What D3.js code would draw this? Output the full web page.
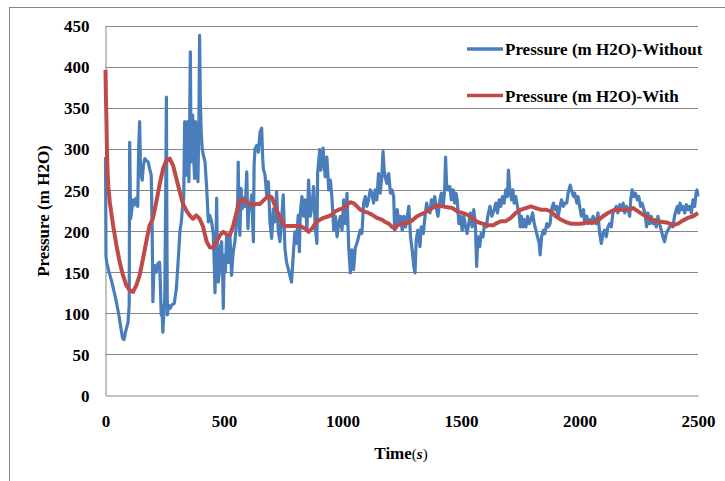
<!DOCTYPE html>
<html>
<head>
<meta charset="utf-8">
<script src="https://cdn.jsdelivr.net/npm/d3@7"></script>
<style>
  body { margin: 0; background: #fff; }
  svg text { font-family: "Liberation Serif", "DejaVu Serif", serif; font-weight: bold; fill: #000; }
</style>
</head>
<body>
<svg id="chart" width="725" height="481"></svg>
<script>
// axis ticks
const xTicks = [0, 500, 1000, 1500, 2000, 2500];
const yTicks = [0, 50, 100, 150, 200, 250, 300, 350, 400, 450];

// series names
const seriesNames = ["Pressure (m H2O)-Without", "Pressure (m H2O)-With"];

// "Without" series: time (s) and pressure (m H2O)
const timeWithout = [0,1,2,5,15,25,35,45,55,65,72,78,85,95,100,102,106,112,118,124,130,136,140,144,148,155,160,166,172,180,186,193,197,200,204,207,214,220,228,231,235,238,242,246,250,254,257,259,261,266,272,280,290,299,308,314,320,324,330,334,338,342,346,350,352,355,358,361,364,368,372,376,380,385,390,394,397,400,404,408,413,420,427,434,440,448,455,460,462,466,469,472,476,480,483,490,494,497,501,506,511,518,525,532,536,539,546,553,558,560,563,567,572,577,583,590,596,601,605,610,617,621,624,627,631,638,645,652,659,663,666,673,680,687,694,701,708,715,722,729,736,743,750,757,764,771,778,785,792,799,806,813,818,822,829,836,843,850,857,864,871,878,885,892,895,904,909,918,927,934,942,949,956,963,970,977,984,991,998,1005,1012,1019,1026,1033,1040,1047,1054,1061,1068,1075,1082,1089,1096,1103,1110,1117,1124,1131,1138,1145,1152,1159,1166,1171,1176,1180,1187,1195,1202,1209,1216,1220,1231,1238,1245,1252,1259,1266,1273,1280,1287,1294,1301,1306,1311,1318,1327,1332,1341,1347,1355,1360,1369,1375,1383,1389,1397,1403,1411,1417,1425,1431,1435,1439,1445,1453,1459,1467,1473,1479,1484,1491,1498,1505,1512,1519,1526,1533,1540,1547,1554,1561,1566,1571,1579,1585,1593,1599,1607,1613,1622,1630,1640,1647,1654,1661,1668,1675,1682,1689,1696,1700,1706,1713,1719,1724,1731,1738,1745,1750,1755,1761,1767,1774,1781,1788,1795,1802,1809,1816,1823,1830,1834,1840,1848,1854,1862,1868,1876,1882,1890,1896,1904,1910,1918,1924,1932,1938,1946,1952,1961,1966,1975,1980,1989,1994,2003,2008,2017,2022,2031,2036,2043,2050,2057,2064,2071,2078,2085,2092,2099,2106,2113,2120,2127,2134,2141,2148,2155,2162,2170,2177,2184,2191,2198,2205,2212,2216,2222,2229,2236,2244,2250,2258,2264,2272,2278,2283,2289,2296,2303,2310,2317,2324,2331,2338,2345,2352,2359,2366,2373,2380,2387,2394,2401,2408,2413,2419,2424,2430,2437,2444,2451,2458,2465,2472,2479,2486,2492,2496,2500];
const pressureWithout = [290,240,170,162,150,140,128,115,100,82,70,68,78,89,110,308,215,228,238,232,240,230,300,333,272,262,280,288,286,284,276,268,200,114,150,158,150,160,162,140,98,110,77,100,118,240,363,200,98,110,106,110,112,130,170,200,211,227,240,333,290,268,333,300,260,330,418,284,300,341,290,264,333,300,260,330,438,360,320,300,292,284,252,211,219,211,195,150,125,180,240,170,138,150,179,187,150,106,170,150,195,162,195,146,165,175,187,211,240,284,220,195,252,227,240,230,272,203,230,227,244,210,187,280,300,304,296,320,325,290,276,268,244,260,211,191,227,211,248,200,187,215,244,179,162,154,146,138,170,199,185,219,175,222,242,218,238,201,262,218,230,254,205,185,270,299,274,301,266,290,250,262,238,201,218,193,209,218,201,238,209,246,181,149,177,153,180,185,193,201,197,234,242,230,238,250,246,234,250,238,270,246,266,297,274,266,258,270,246,250,242,201,226,209,218,201,218,205,218,230,193,177,157,149,189,201,181,205,197,215,234,226,222,238,230,242,226,218,238,246,230,250,290,258,250,254,238,250,234,246,238,209,218,201,218,205,197,210,222,205,226,205,157,193,181,197,193,209,205,218,230,218,226,234,222,238,230,242,234,250,242,274,250,238,250,234,242,230,222,205,218,205,214,205,218,209,214,222,209,201,193,185,171,193,201,197,209,205,209,226,234,226,230,218,230,238,230,234,234,246,256,250,242,246,234,242,226,218,226,209,218,209,214,209,218,214,209,222,197,185,197,201,193,205,209,205,222,226,230,222,232,226,234,222,230,226,218,238,250,242,246,238,242,230,234,226,218,205,222,209,218,209,214,205,218,209,201,193,187,197,201,205,209,205,218,226,230,222,234,226,230,222,232,226,230,222,238,230,246,250,242];

// "With" series
const timeWith = [0,2,4,6,9,12,18,32,46,60,74,88,102,116,130,144,158,172,186,200,214,228,243,257,271,285,299,313,327,341,355,369,383,397,411,427,441,455,469,483,497,511,525,539,553,567,581,596,610,624,638,652,666,687,701,715,729,743,757,778,799,820,843,857,871,885,899,920,942,956,970,984,1005,1019,1033,1047,1061,1075,1089,1110,1124,1145,1166,1180,1195,1209,1223,1231,1252,1273,1294,1315,1337,1358,1379,1400,1421,1442,1463,1484,1505,1526,1547,1569,1590,1611,1636,1647,1668,1689,1710,1731,1753,1774,1795,1816,1837,1858,1879,1900,1921,1942,1963,1985,2006,2027,2048,2057,2078,2099,2120,2141,2163,2184,2205,2226,2247,2268,2289,2310,2331,2352,2373,2394,2416,2437,2458,2479,2500];
const pressureWith = [396,360,335,300,270,254,235,207,183,162,146,134,128,126,134,146,166,187,207,215,235,256,276,286,288,280,264,248,233,225,219,215,219,215,206,187,180,180,187,195,199,196,195,207,223,237,239,235,232,232,233,233,237,243,241,231,221,211,206,206,206,206,203,199,203,209,213,216,218,220,224,226,228,232,235,234,230,226,224,222,220,216,214,211,209,205,203,207,209,210,213,218,221,224,228,231,230,229,228,224,222,220,216,211,209,207,207,209,212,212,216,222,226,228,230,228,226,226,224,218,214,211,209,209,209,210,211,210,213,218,222,225,226,226,226,228,224,220,216,213,212,211,210,207,209,213,216,218,222];

const colors = ["#4A7EBB", "#BE4B48"];

const svg = d3.select("#chart");
svg.append("rect").attr("width", 725).attr("height", 481).attr("fill", "#fff");

// outer chart frame (only the left and top edges are in view)
svg.append("rect")
  .attr("x", 9.5).attr("y", 7.5)
  .attr("width", 900).attr("height", 700)
  .attr("fill", "none")
  .attr("stroke", "#868686")
  .attr("stroke-width", 1);

const plot = {left: 105.5, right: 698, top: 25.5, bottom: 395.5};

const x = d3.scaleLinear().domain([0, 2500]).range([plot.left, plot.right]);
const y = d3.scaleLinear().domain([0, 450]).range([plot.bottom, plot.top]);

// horizontal grid lines
svg.append("g")
  .selectAll("line")
  .data(yTicks.slice(1))
  .join("line")
  .attr("x1", plot.left).attr("x2", plot.right)
  .attr("y1", d => Math.round(y(d)) + 0.5)
  .attr("y2", d => Math.round(y(d)) + 0.5)
  .attr("stroke", "#868686")
  .attr("stroke-width", 1);

// y axis
const yAxis = svg.append("g")
  .attr("transform", "translate(" + plot.left + ",0)")
  .call(d3.axisLeft(y).tickValues(yTicks).tickFormat(d3.format("d")).tickSize(0).tickPadding(16));
yAxis.select(".domain").attr("stroke", "#868686");
yAxis.selectAll("text")
  .style("font-family", "'Liberation Serif', serif")
  .style("font-size", "17px")
  .attr("dy", "0.36em");

// x axis
const xAxis = svg.append("g")
  .attr("transform", "translate(0," + plot.bottom + ")")
  .call(d3.axisBottom(x).tickValues(xTicks).tickFormat(d3.format("d")).tickSize(0).tickPadding(19));
xAxis.select(".domain").attr("stroke", "#868686");
xAxis.selectAll("text")
  .style("font-family", "'Liberation Serif', serif")
  .style("font-size", "17px");

// lines
const line = d3.line().x(d => x(d[0])).y(d => y(d[1]));
const blueData = timeWithout.map((t, i) => [t, pressureWithout[i]]);
const redData = timeWith.map((t, i) => [t, pressureWith[i]]);

svg.append("path")
  .datum(blueData)
  .attr("d", line)
  .attr("fill", "none")
  .attr("stroke", colors[0])
  .attr("stroke-width", 3.2)
  .attr("stroke-linejoin", "round");

svg.append("path")
  .datum(redData)
  .attr("d", line)
  .attr("fill", "none")
  .attr("stroke", colors[1])
  .attr("stroke-width", 4)
  .attr("stroke-linejoin", "round");

// legend
const legend = svg.append("g");
seriesNames.forEach((name, i) => {
  const ly = 49 + i * 46.5;
  legend.append("line")
    .attr("x1", 467).attr("x2", 503)
    .attr("y1", ly).attr("y2", ly)
    .attr("stroke", colors[i])
    .attr("stroke-width", 3.5);
  legend.append("text")
    .attr("x", 505).attr("y", ly + 6)
    .style("font-size", "17px")
    .text(name);
});

// axis titles
const xt = svg.append("text")
  .attr("x", 401).attr("y", 459)
  .attr("text-anchor", "middle")
  .style("font-size", "17px");
xt.append("tspan").text("Time");
xt.append("tspan").style("font-weight", "normal").style("font-size", "15px").text("(");
xt.append("tspan").style("font-style", "italic").style("font-size", "15px").text("s");
xt.append("tspan").style("font-weight", "normal").style("font-size", "15px").text(")");

svg.append("text")
  .attr("transform", "translate(49,211) rotate(-90)")
  .attr("text-anchor", "middle")
  .style("font-size", "17px")
  .text("Pressure (m H2O)");
</script>
</body>
</html>
